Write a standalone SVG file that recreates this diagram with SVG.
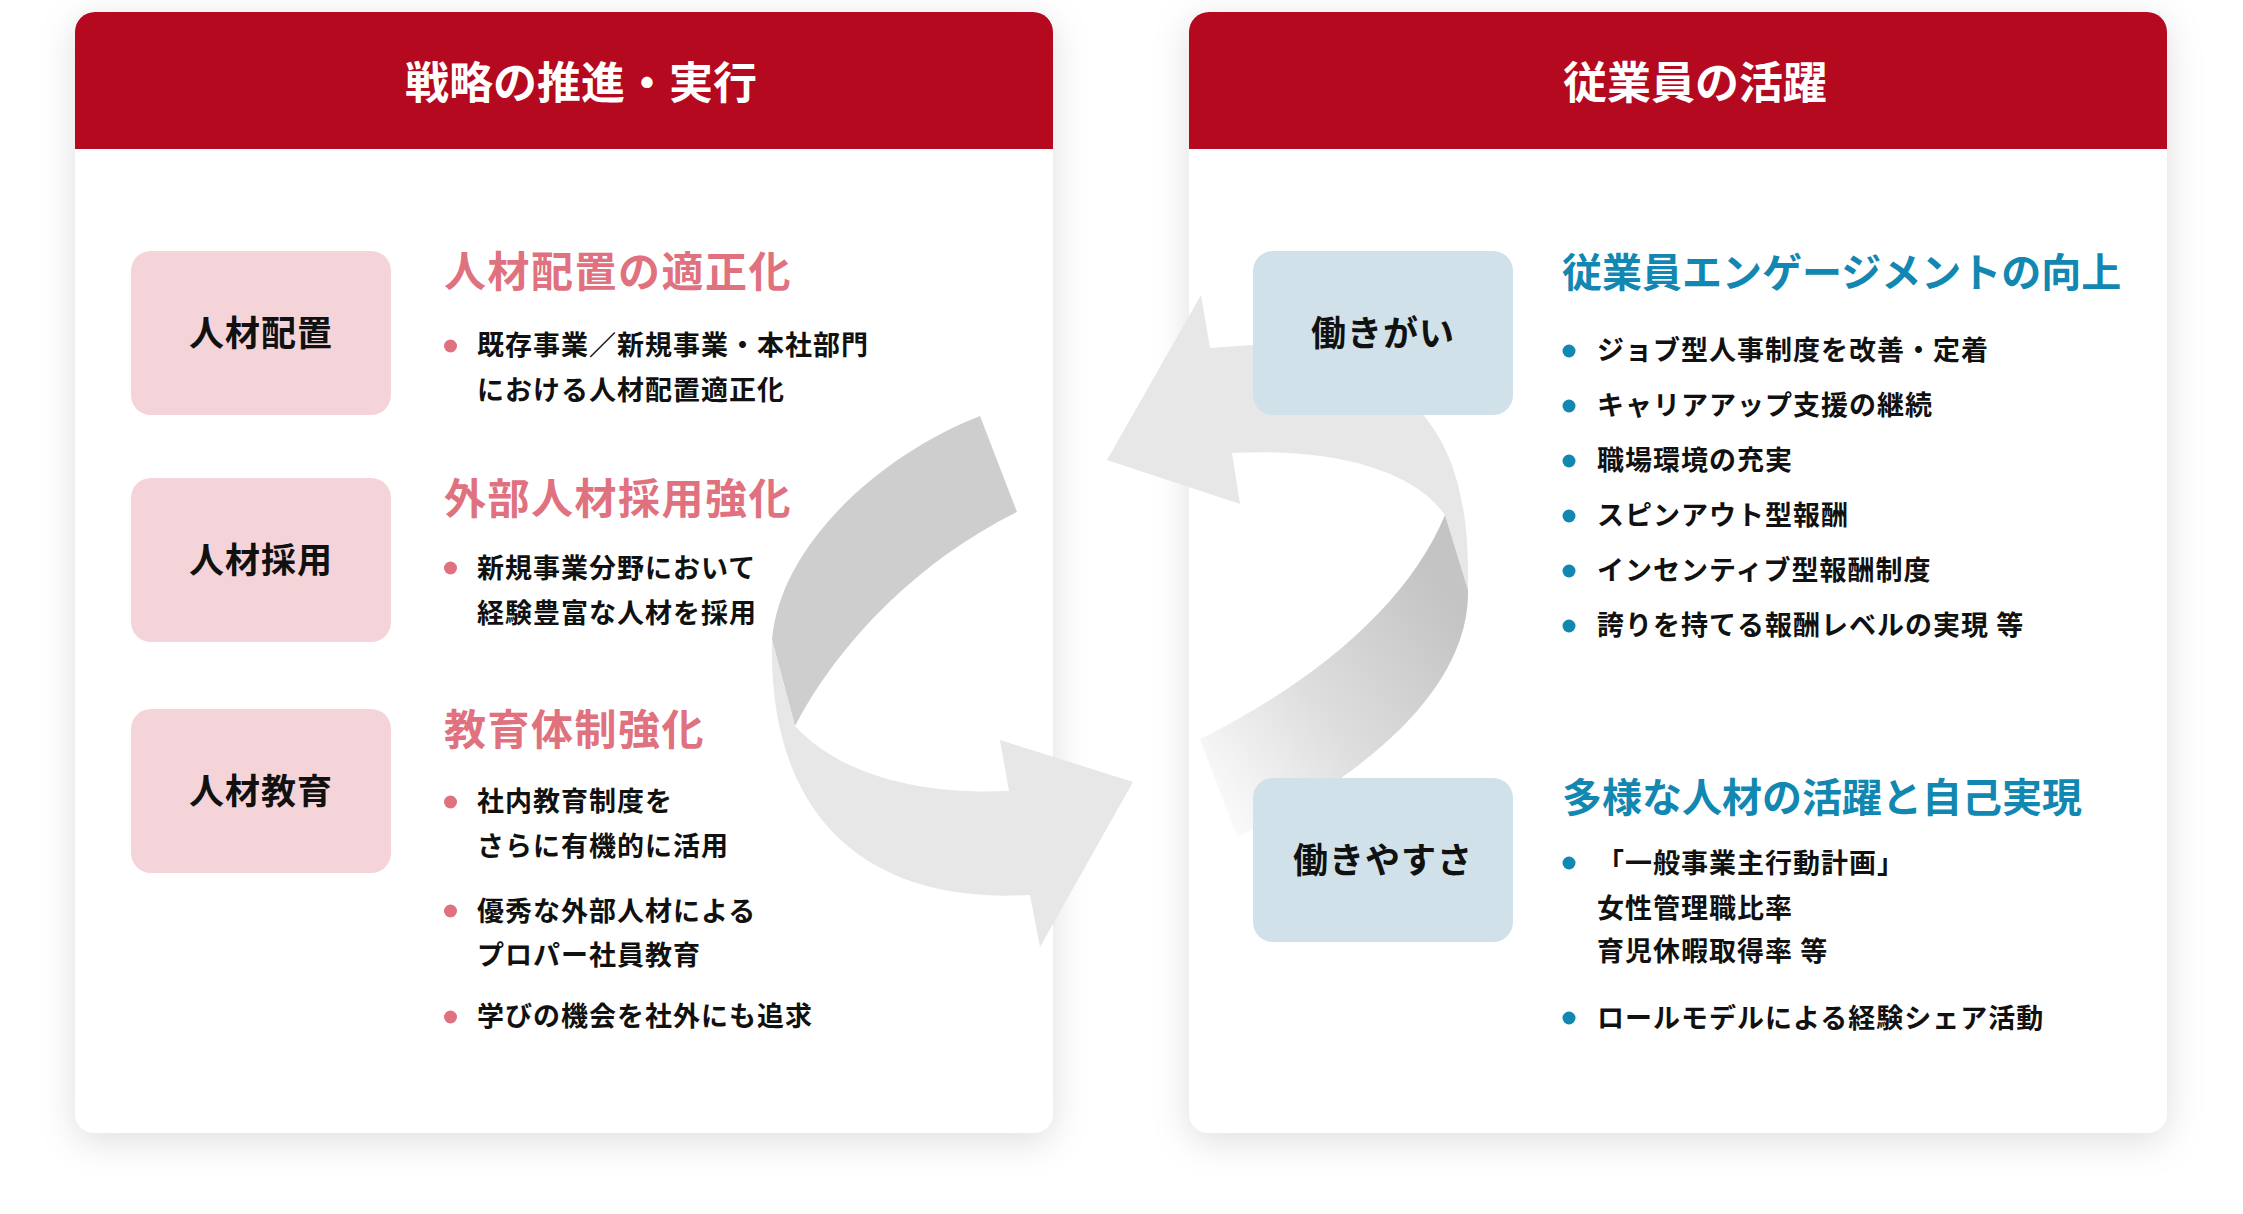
<svg xmlns="http://www.w3.org/2000/svg" width="2243" height="1214" viewBox="0 0 2243 1214">
<defs>
<filter id="sh" x="-10%" y="-10%" width="120%" height="125%">
<feDropShadow dx="0" dy="8" stdDeviation="18" flood-color="#000" flood-opacity="0.13"/>
</filter>
<linearGradient id="gDark" gradientUnits="userSpaceOnUse" x1="1215" y1="800" x2="1462" y2="620">
<stop offset="0" stop-color="#fafafa"/>
<stop offset="0.45" stop-color="#dedede"/>
<stop offset="1" stop-color="#c4c4c4"/>
</linearGradient>
<style>
text{font-family:"Noto Sans CJK JP","Noto Sans",sans-serif;font-weight:700;}
.hd{fill:#ffffff;font-size:44px;text-anchor:middle;}
.lbl{fill:#111111;font-size:35px;text-anchor:middle;letter-spacing:1px;}
.h2p{fill:#e0717f;font-size:42px;letter-spacing:1.5px;}
.h2b{fill:#1287b1;font-size:40px;}
.bl{fill:#111111;font-size:27px;letter-spacing:1px;}
.pb{fill:#f5d4d9;}
.bb{fill:#d0e1e9;}
.dp{fill:#e0717f;}
.db{fill:#1287b1;}
.hdr{fill:#b4091f;}
</style>
</defs>
<rect width="2243" height="1214" fill="#ffffff"/>

<g id="panel-left">
<rect x="75" y="12" width="978" height="1121" rx="20" fill="#ffffff" filter="url(#sh)"/>
<path class="hdr" d="M75,149 V32 A20,20 0 0 1 95,12 H1033 A20,20 0 0 1 1053,32 V149 Z"/>
<text class="hd" x="581" y="99">戦略の推進・実行</text>
</g>
<g id="panel-right">
<rect x="1189" y="12" width="978" height="1121" rx="20" fill="#ffffff" filter="url(#sh)"/>
<path class="hdr" d="M1189,149 V32 A20,20 0 0 1 1209,12 H2147 A20,20 0 0 1 2167,32 V149 Z"/>
<text class="hd" x="1695" y="99">従業員の活躍</text>
</g>

<g id="connectors">
<g id="arrow-left">
<path fill="#cecece" d="M980,416 C880,455 780,545 772,640 L795,726 C840,640 920,560 1017,512 Z"/>
<path fill="#e7e7e7" d="M772,640 C768,800 850,905 1030,895 L1040,947 L1133,782 L1000,740 L1009,791 C920,795 840,775 795,726 Z"/>
</g>
<g id="arrow-right">
<path fill="#e7e7e7" d="M1210,348 L1201,295 L1107,460 L1240,504 L1232,453 C1320,448 1410,465 1445,515 L1468,590 C1470,470 1445,360 1253,345 Z"/>
<path fill="url(#gDark)" d="M1445,515 C1410,600 1320,680 1200,739 L1237,837 C1340,790 1470,700 1468,590 Z"/>
</g>
</g>

<g id="node-jinzai-haichi">
<rect class="pb" x="131" y="251" width="260" height="164" rx="20"/>
<text class="lbl" x="261" y="346">人材配置</text>
</g>
<g id="node-jinzai-saiyo">
<rect class="pb" x="131" y="478" width="260" height="164" rx="20"/>
<text class="lbl" x="261" y="573">人材採用</text>
</g>
<g id="node-jinzai-kyoiku">
<rect class="pb" x="131" y="709" width="260" height="164" rx="20"/>
<text class="lbl" x="261" y="804">人材教育</text>
</g>

<g id="text-haichi">
<text class="h2p" x="444" y="287">人材配置の適正化</text>
<circle class="dp" cx="450.5" cy="346" r="6.5"/>
<text class="bl" x="477" y="355">既存事業／新規事業・本社部門</text>
<text class="bl" x="477" y="400">における人材配置適正化</text>
</g>
<g id="text-saiyo">
<text class="h2p" x="444" y="514">外部人材採用強化</text>
<circle class="dp" cx="450.5" cy="568" r="6.5"/>
<text class="bl" x="477" y="578">新規事業分野において</text>
<text class="bl" x="477" y="623">経験豊富な人材を採用</text>
</g>
<g id="text-kyoiku">
<text class="h2p" x="444" y="745">教育体制強化</text>
<circle class="dp" cx="450.5" cy="802" r="6.5"/>
<text class="bl" x="477" y="811">社内教育制度を</text>
<text class="bl" x="477" y="856">さらに有機的に活用</text>
<circle class="dp" cx="450.5" cy="911" r="6.5"/>
<text class="bl" x="477" y="921">優秀な外部人材による</text>
<text class="bl" x="477" y="965">プロパー社員教育</text>
<circle class="dp" cx="450.5" cy="1017" r="6.5"/>
<text class="bl" x="477" y="1026">学びの機会を社外にも追求</text>
</g>

<g id="node-hatarakigai">
<rect class="bb" x="1253" y="251" width="260" height="164" rx="20"/>
<text class="lbl" x="1383" y="346">働きがい</text>
</g>
<g id="node-hatarakiyasusa">
<rect class="bb" x="1253" y="778" width="260" height="164" rx="20"/>
<text class="lbl" x="1383" y="873">働きやすさ</text>
</g>

<g id="text-engagement">
<text class="h2b" x="1562" y="287">従業員エンゲージメントの向上</text>
<circle class="db" cx="1569" cy="351" r="6.5"/>
<text class="bl" x="1597" y="360">ジョブ型人事制度を改善・定着</text>
<circle class="db" cx="1569" cy="406" r="6.5"/>
<text class="bl" x="1597" y="415">キャリアアップ支援の継続</text>
<circle class="db" cx="1569" cy="461" r="6.5"/>
<text class="bl" x="1597" y="470">職場環境の充実</text>
<circle class="db" cx="1569" cy="516" r="6.5"/>
<text class="bl" x="1597" y="525">スピンアウト型報酬</text>
<circle class="db" cx="1569" cy="571" r="6.5"/>
<text class="bl" x="1597" y="580">インセンティブ型報酬制度</text>
<circle class="db" cx="1569" cy="626" r="6.5"/>
<text class="bl" x="1597" y="635">誇りを持てる報酬レベルの実現 等</text>
</g>
<g id="text-diversity">
<text class="h2b" x="1562" y="812">多様な人材の活躍と自己実現</text>
<circle class="db" cx="1569" cy="863" r="6.5"/>
<text class="bl" x="1597" y="873">「一般事業主行動計画」</text>
<text class="bl" x="1597" y="918">女性管理職比率</text>
<text class="bl" x="1597" y="961">育児休暇取得率 等</text>
<circle class="db" cx="1569" cy="1018" r="6.5"/>
<text class="bl" x="1597" y="1028">ロールモデルによる経験シェア活動</text>
</g>
</svg>
